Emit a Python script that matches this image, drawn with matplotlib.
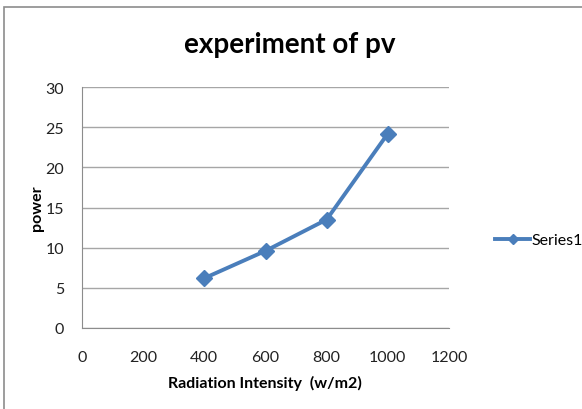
import matplotlib.pyplot as plt
from matplotlib.patches import Rectangle

radiation = [400, 600, 800, 1000]
power = [6.2, 9.6, 13.5, 24.2]
x_ticks = [0, 200, 400, 600, 800, 1000, 1200]
y_ticks = [0, 5, 10, 15, 20, 25, 30]

plt.rcParams['font.family'] = ['Lato', 'DejaVu Sans']

W, H = 582, 410
fig = plt.figure(figsize=(W / 100, H / 100), dpi=100)

# chart border like the Excel chart area
fig.patches.append(Rectangle((4 / W, -0.1), 1.2, 1 - 8 / H + 0.1, transform=fig.transFigure,
                             fill=False, edgecolor='#8c8c8c', linewidth=1.2))

ax = fig.add_axes([82 / W, 1 - 329 / H, (449 - 82) / W, (329 - 88) / H])
ax.plot(radiation, power, color='#4a7ebb', linewidth=2.8, marker='D', markersize=8,
        label='Series1')
ax.set_xlim(0, 1200)
ax.set_ylim(0, 30)
ax.set_xticks(x_ticks)
ax.set_yticks(y_ticks)
ax.tick_params(length=0, labelsize=11.5, colors='#222222')
ax.tick_params(axis='x', pad=16)
ax.tick_params(axis='y', pad=13)
ax.grid(axis='y', color='#a6a6a6', linewidth=1)
ax.set_axisbelow(True)
for side in ['top', 'right']:
    ax.spines[side].set_visible(False)
for side in ['left', 'bottom']:
    ax.spines[side].set_color('#8c8c8c')

fig.text(290 / W, 1 - 45 / H, 'experiment of pv', ha='center', va='center',
         fontsize=20, fontweight='bold')
fig.text(265 / W, 1 - 383 / H, 'Radiation Intensity  (w/m2)', ha='center', va='center',
         fontsize=11.5, fontweight='bold')
fig.text(37 / W, 1 - 208 / H, 'power', ha='center', va='center', rotation=90,
         fontsize=11.5, fontweight='bold')

ax.legend(loc='center left', bbox_to_anchor=(487 / W, 1 - 241 / H), bbox_transform=fig.transFigure,
          frameon=False, fontsize=11.5, handlelength=2.2, handletextpad=0.1, borderpad=0,
          markerscale=0.7)

fig.savefig('out.png', dpi=100)
